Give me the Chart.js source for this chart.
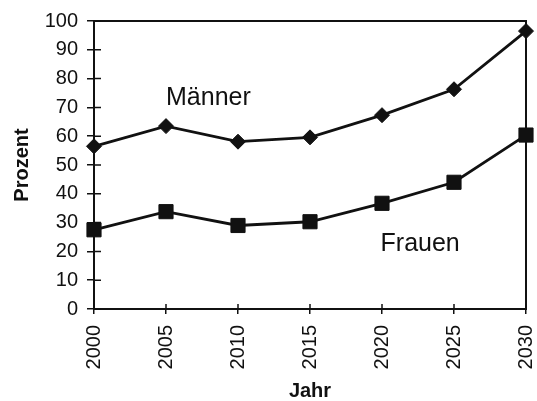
<!DOCTYPE html>
<html>
<head>
<meta charset="utf-8">
<script src="https://cdn.jsdelivr.net/npm/chart.js@4/dist/chart.umd.min.js"></script>
<style>
  html, body { margin: 0; padding: 0; background: #fff; }
  #wrap { width: 537px; height: 401px; }
</style>
</head>
<body>
<div id="wrap"><canvas id="chart" width="537" height="401"></canvas></div>
<script>
// Jahr / Prozent, two series
const years = ['2000', '2005', '2010', '2015', '2020', '2025', '2030'];
const maenner = [56.5, 63.5, 58.1, 59.6, 67.3, 76.3, 96.5];
const frauen = [27.5, 33.8, 29.0, 30.3, 36.7, 44.0, 60.4];
const yTicks = [0, 10, 20, 30, 40, 50, 60, 70, 80, 90, 100];

// text labels placed in data space: [text, year index, percent]
const seriesLabels = [
    ['Männer', 1, 71],
    ['Frauen', 3.98, 20]
];

const ink = '#111';
Chart.defaults.font.family = "'Liberation Sans', Arial, sans-serif";
Chart.defaults.color = ink;

// box around the plot + the inner half of the tick marks
const framePlugin = {
    id: 'frame',
    afterDatasetsDraw(chart) {
        const { ctx, chartArea: a, scales: { x, y } } = chart;
        ctx.save();
        ctx.strokeStyle = ink;
        ctx.lineWidth = 2;
        ctx.strokeRect(a.left, a.top, a.right - a.left, a.bottom - a.top);
        ctx.lineWidth = 1.5;
        ctx.beginPath();
        yTicks.forEach(v => {
            const py = y.getPixelForValue(v);
            ctx.moveTo(a.left, py);
            ctx.lineTo(a.left + 7, py);
        });
        years.forEach((_, i) => {
            const px = x.getPixelForValue(i);
            ctx.moveTo(px, a.bottom);
            ctx.lineTo(px, a.bottom - 5);
        });
        ctx.stroke();

        ctx.fillStyle = ink;
        ctx.font = "25px 'Liberation Sans', Arial, sans-serif";
        ctx.textAlign = 'left';
        ctx.textBaseline = 'alphabetic';
        seriesLabels.forEach(([t, xi, v]) => {
            ctx.fillText(t, x.getPixelForValue(xi), y.getPixelForValue(v));
        });
        ctx.restore();
    }
};

new Chart(document.getElementById('chart'), {
    type: 'line',
    data: {
        labels: years,
        datasets: [
            {
                label: 'Männer',
                data: maenner,
                borderColor: ink,
                backgroundColor: ink,
                borderWidth: 2.8,
                pointStyle: 'rectRot',
                pointRadius: 7.5,
                pointBorderWidth: 1,
                tension: 0,
                clip: false
            },
            {
                label: 'Frauen',
                data: frauen,
                borderColor: ink,
                backgroundColor: ink,
                borderWidth: 2.8,
                pointStyle: 'rect',
                pointRadius: 10,
                pointBorderWidth: 1,
                tension: 0,
                clip: false
            }
        ]
    },
    options: {
        responsive: false,
        animation: false,
        layout: { padding: { top: 21, right: 5, bottom: 0, left: 0 } },
        plugins: {
            legend: { display: false },
            tooltip: { enabled: false }
        },
        scales: {
            x: {
                type: 'category',
                offset: false,
                border: { display: true, color: ink, width: 2 },
                grid: { display: true, drawOnChartArea: false, drawTicks: true, tickLength: 5, color: ink, lineWidth: 1.5 },
                ticks: { font: { size: 20 }, color: ink, minRotation: 90, maxRotation: 90, padding: 11, autoSkip: false },
                title: { display: true, text: 'Jahr', font: { size: 20, weight: 'bold', lineHeight: 1 }, color: ink, padding: { top: 0, bottom: 0 } },
                afterFit(s) {
                    s.height = 92;
                    s.paddingLeft = 0;
                    s.paddingRight = 0;
                }
            },
            y: {
                min: 0,
                max: 100,
                border: { display: true, color: ink, width: 2 },
                grid: { display: true, drawOnChartArea: false, drawTicks: true, tickLength: 7, color: ink, lineWidth: 1.5 },
                ticks: { stepSize: 10, font: { size: 20 }, color: ink, padding: 9 },
                afterBuildTicks(s) {
                    s.ticks = yTicks.map(v => ({ value: v }));
                },
                title: { display: true, text: 'Prozent', font: { size: 20, weight: 'bold', lineHeight: 1 }, color: ink, padding: { top: 12, bottom: 0 } },
                afterFit(s) {
                    s.width = 94;
                    s.paddingTop = 0;
                    s.paddingBottom = 0;
                }
            }
        }
    },
    plugins: [framePlugin]
});
</script>
</body>
</html>
